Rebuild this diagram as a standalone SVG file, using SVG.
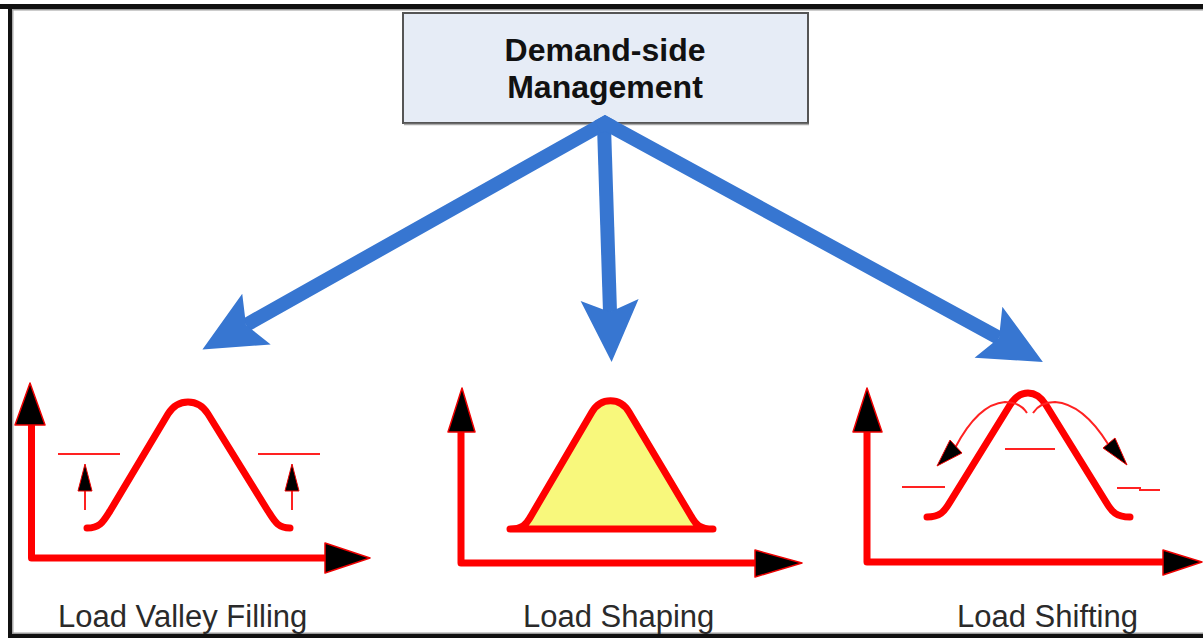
<svg xmlns="http://www.w3.org/2000/svg" width="1203" height="638" viewBox="0 0 1203 638">
<style>
.frame{fill:#111}
.box{fill:#e6ecf6;stroke:#555;stroke-width:2}
.title{font-family:"Liberation Sans",Arial,sans-serif;font-weight:bold;font-size:32px;fill:#111;text-anchor:middle}
.label{font-family:"Liberation Sans",Arial,sans-serif;font-size:31px;fill:#2a2a2a}
.conn{fill:none;stroke:#3776d1;stroke-width:14;stroke-linejoin:miter;stroke-miterlimit:6}
.axis{fill:none;stroke:#f00;stroke-width:7;stroke-linejoin:round}
.curve{fill:none;stroke:#f00;stroke-width:7;stroke-linecap:round;stroke-linejoin:round}
.fillcurve{fill:#f8f87c;stroke:#f00;stroke-width:7;stroke-linejoin:round}
.head{fill:#000;stroke:#e00;stroke-width:1.5;stroke-linejoin:round}
.thin{fill:none;stroke:#f22;stroke-width:2}
.shead{fill:#000;stroke:#e00;stroke-width:1}
</style>
<defs>
<marker id="bluehead" markerUnits="userSpaceOnUse" markerWidth="80" markerHeight="80" refX="0" refY="0" viewBox="-20 -40 80 80" orient="auto" overflow="visible">
<path d="M50,0 L-12,-29 L0,0 L-12,29 Z" fill="#3776d1"/>
</marker>
</defs>
<rect width="1203" height="638" fill="#fff"/>
<g id="frame">
<rect class="frame" x="0" y="4" width="1203" height="5"/>
<rect x="12" y="9" width="1191" height="1.5" fill="#999"/>
<rect class="frame" x="8" y="4" width="4" height="634"/>
<rect x="12" y="9" width="1.5" height="625" fill="#aaa"/>
<rect class="frame" x="8" y="634" width="1195" height="4"/>
<rect x="12" y="632.5" width="1191" height="1.5" fill="#999"/>
</g>
<g id="dsm">
<rect class="box" x="403" y="13" width="405" height="110"/>
<line x1="404" y1="124.5" x2="809" y2="124.5" stroke="#aaa" stroke-width="1.5"/>
<text class="title" x="605" y="61">Demand-side</text>
<text class="title" x="605" y="98">Management</text>
</g>
<g id="connectors">
<path class="conn" d="M612,126.9 L605,123 L246,325" marker-end="url(#bluehead)"/>
<path class="conn" d="M604,126 L610,312" marker-end="url(#bluehead)"/>
<path class="conn" d="M598,126.9 L605,123 L999,338" marker-end="url(#bluehead)"/>
</g>
<g id="valley-filling">
<path class="axis" d="M31.5,425 L31.5,558 L325,558"/>
<polygon class="head" points="30,383 45,425 15,425"/>
<polygon class="head" points="370,558 325,573 325,543"/>
<path class="curve" d="M87,528 C100,528 103,522 110,511 L168,414 C178,398 198,398 208,414 L268,511 C275,522 278,528 290,528"/>
<line class="thin" x1="58" y1="454" x2="120" y2="454"/>
<line class="thin" x1="258" y1="454" x2="320" y2="454"/>
<line class="thin" x1="85" y1="490" x2="85" y2="510"/>
<polygon class="shead" points="85,464 92,491 78,491"/>
<line class="thin" x1="292" y1="490" x2="292" y2="510"/>
<polygon class="shead" points="292,464 299,491 285,491"/>
<text class="label" x="58" y="627">Load Valley Filling</text>
</g>
<g id="load-shaping">
<path class="axis" d="M461,432 L461,563 L755,563"/>
<polygon class="head" points="462,388 475,432 448,432"/>
<polygon class="head" points="802,563 755,577 755,550"/>
<path class="fillcurve" d="M510,529 C522,529 526,525 531,516 L592,412 C601,397 620,397 629,412 L691,516 C696,525 700,529 713,529 Z"/>
<text class="label" x="523" y="627">Load Shaping</text>
</g>
<g id="load-shifting">
<path class="axis" d="M867,432 L867,562 L1163,562"/>
<polygon class="head" points="867,388 882,432 853,432"/>
<polygon class="head" points="1202,562 1163,575 1163,550"/>
<path class="curve" d="M927,517 C940,517 944,512 950,502 L1010,405 C1020,389 1036,389 1046,405 L1106,502 C1112,512 1116,517 1130,517"/>
<line class="thin" x1="902" y1="487" x2="945" y2="487"/>
<line class="thin" x1="1005" y1="449" x2="1055" y2="449"/>
<path class="thin" d="M1117,488 L1140,488 L1140,490 L1160,490"/>
<path class="thin" d="M1027,413 Q1020,402 1005,402 Q978,404 955,448"/>
<polygon class="shead" points="937,466 950,440 962,453"/>
<path class="thin" d="M1033,413 Q1040,402 1055,402 Q1083,404 1108,444"/>
<polygon class="shead" points="1127,465 1103,448 1115,438"/>
<text class="label" x="957" y="627">Load Shifting</text>
</g>
</svg>
